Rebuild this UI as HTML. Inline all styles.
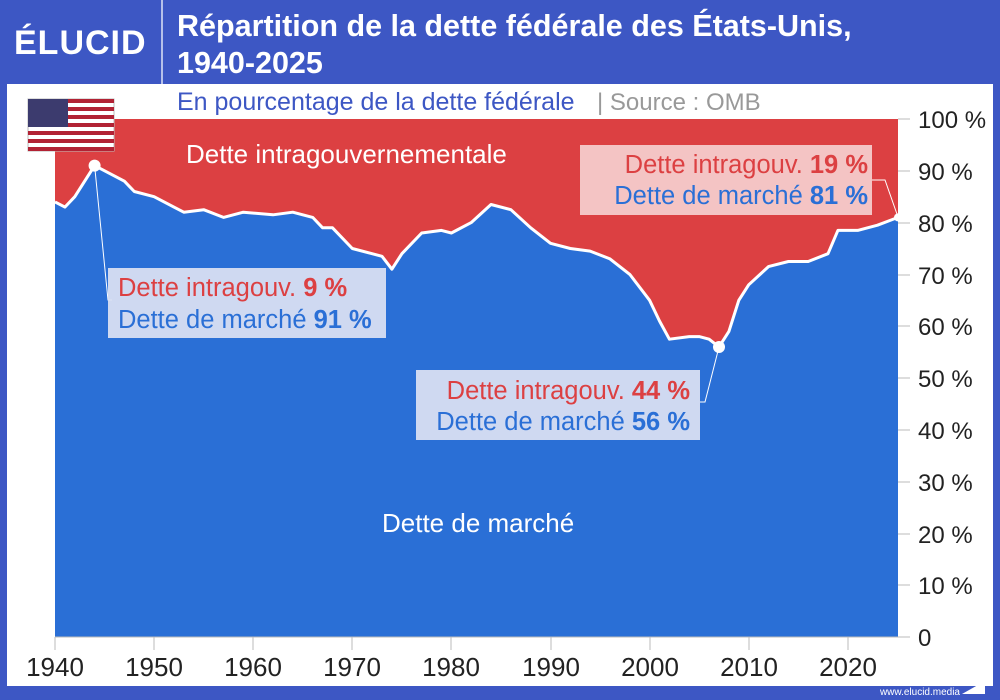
<!DOCTYPE html>
<html><head><meta charset="utf-8"><style>
html,body{margin:0;padding:0;}
body{width:1000px;height:700px;background:#3d57c4;position:relative;overflow:hidden;font-family:"Liberation Sans",sans-serif;}
</style></head><body>
<svg width="1000" height="700" viewBox="0 0 1000 700" style="position:absolute;left:0;top:0">
<rect x="0" y="0" width="1000" height="700" fill="#3d57c4"/>
<rect x="7" y="84" width="986" height="602" fill="#ffffff"/>
<line x1="162" y1="0" x2="162" y2="84" stroke="#dfe4f7" stroke-width="1.5"/>
<text x="14" y="54" font-size="34" font-weight="bold" fill="#fff" letter-spacing="1">ÉLUCID</text>
<text x="177" y="36" font-size="30.5" font-weight="bold" fill="#fff">Répartition de la dette fédérale des États-Unis,</text>
<text x="177" y="73" font-size="30.5" font-weight="bold" fill="#fff">1940-2025</text>
<text x="177" y="110" font-size="25" fill="#3d57c4">En pourcentage de la dette fédérale</text>
<text x="597" y="110" font-size="24" fill="#999">| Source : OMB</text>
<rect x="55" y="119" width="843" height="518" fill="#dc4042"/>
<path d="M55,201.9 L64.9,207.1 L74.8,196.7 L94.6,165.6 L104.6,170.8 L124.4,181.2 L134.3,191.5 L154.1,196.7 L173.9,207.1 L183.8,212.2 L203.7,209.7 L223.5,217.4 L243.3,212.2 L273,214.8 L292.8,212.2 L312.7,217.4 L322.6,227.8 L332.5,227.8 L352.3,248.5 L372.1,253.7 L382,256.3 L391.9,269.2 L401.9,253.7 L421.7,233 L441.5,230.4 L451.4,233 L471.2,222.6 L491,204.5 L510.9,209.7 L530.7,227.8 L550.5,243.3 L570.3,248.5 L590.1,251.1 L610,258.9 L629.8,274.4 L649.6,300.3 L659.5,321 L669.4,339.2 L689.2,336.6 L699.2,336.6 L709.1,339.2 L719,346.9 L728.9,331.4 L738.8,300.3 L748.7,284.8 L768.5,266.6 L788.4,261.5 L808.2,261.5 L828,253.7 L837.9,230.4 L857.7,230.4 L877.5,225.2 L898,217.4 L898,637 L55,637 Z" fill="#2a6fd6"/>
<path d="M55,201.9 L64.9,207.1 L74.8,196.7 L94.6,165.6 L104.6,170.8 L124.4,181.2 L134.3,191.5 L154.1,196.7 L173.9,207.1 L183.8,212.2 L203.7,209.7 L223.5,217.4 L243.3,212.2 L273,214.8 L292.8,212.2 L312.7,217.4 L322.6,227.8 L332.5,227.8 L352.3,248.5 L372.1,253.7 L382,256.3 L391.9,269.2 L401.9,253.7 L421.7,233 L441.5,230.4 L451.4,233 L471.2,222.6 L491,204.5 L510.9,209.7 L530.7,227.8 L550.5,243.3 L570.3,248.5 L590.1,251.1 L610,258.9 L629.8,274.4 L649.6,300.3 L659.5,321 L669.4,339.2 L689.2,336.6 L699.2,336.6 L709.1,339.2 L719,346.9 L728.9,331.4 L738.8,300.3 L748.7,284.8 L768.5,266.6 L788.4,261.5 L808.2,261.5 L828,253.7 L837.9,230.4 L857.7,230.4 L877.5,225.2 L898,217.4" fill="none" stroke="#fff" stroke-width="3" stroke-linejoin="round"/>
<g transform="translate(28,99)">
<rect width="86" height="52" fill="#fff" stroke="#bbb"/>
<g fill="#b22234">
<rect y="0" width="86" height="4"/><rect y="8" width="86" height="4"/><rect y="16" width="86" height="4"/><rect y="24" width="86" height="4"/><rect y="32" width="86" height="4"/><rect y="40" width="86" height="4"/><rect y="48" width="86" height="4"/>
</g>
<rect width="40" height="28" fill="#3c3b6e"/>
</g>
<g font-size="24" fill="#222">
<text x="918" y="128">100 %</text>
<text x="918" y="180">90 %</text>
<text x="918" y="232">80 %</text>
<text x="918" y="284">70 %</text>
<text x="918" y="335">60 %</text>
<text x="918" y="387">50 %</text>
<text x="918" y="439">40 %</text>
<text x="918" y="491">30 %</text>
<text x="918" y="543">20 %</text>
<text x="918" y="594">10 %</text>
<text x="918" y="646">0</text>
</g>
<g stroke="#bbb" stroke-width="1">
<line x1="898" y1="171" x2="910" y2="171"/><line x1="898" y1="223" x2="910" y2="223"/><line x1="898" y1="275" x2="910" y2="275"/><line x1="898" y1="326" x2="910" y2="326"/><line x1="898" y1="378" x2="910" y2="378"/><line x1="898" y1="430" x2="910" y2="430"/><line x1="898" y1="482" x2="910" y2="482"/><line x1="898" y1="534" x2="910" y2="534"/><line x1="898" y1="585" x2="910" y2="585"/><line x1="898" y1="119" x2="910" y2="119"/>
<line x1="55" y1="637" x2="910" y2="637"/>
<line x1="55" y1="637" x2="55" y2="650"/><line x1="154" y1="637" x2="154" y2="650"/><line x1="253" y1="637" x2="253" y2="650"/><line x1="352" y1="637" x2="352" y2="650"/><line x1="451" y1="637" x2="451" y2="650"/><line x1="551" y1="637" x2="551" y2="650"/><line x1="650" y1="637" x2="650" y2="650"/><line x1="749" y1="637" x2="749" y2="650"/><line x1="848" y1="637" x2="848" y2="650"/>
</g>
<g font-size="26" fill="#222" text-anchor="middle">
<text x="55" y="676">1940</text><text x="154" y="676">1950</text><text x="253" y="676">1960</text><text x="352" y="676">1970</text><text x="451" y="676">1980</text><text x="551" y="676">1990</text><text x="650" y="676">2000</text><text x="749" y="676">2010</text><text x="848" y="676">2020</text>
</g>
<text x="960" y="695" font-size="10" fill="#fff" text-anchor="end">www.elucid.media</text>
<polygon points="962,694 985,681 985,694" fill="#fff"/>
<text x="186" y="163" font-size="26" fill="#fff">Dette intragouvernementale</text>
<text x="382" y="532" font-size="26" fill="#fff">Dette de marché</text>
<g stroke="#fff" stroke-width="1" fill="none">
<polyline points="94.6,165.6 108,300 112,300"/>
<polyline points="719,347 705,402 700,402"/>
<polyline points="898,217 885,180 872,180"/>
</g>
<circle cx="94.6" cy="165.6" r="6" fill="#fff"/>
<circle cx="719" cy="347" r="6" fill="#fff"/>
<circle cx="898" cy="217.4" r="4" fill="#fff"/>
<rect x="108" y="268" width="278" height="70" fill="#dbe1f3" opacity="0.93"/>
<text x="118" y="296" font-size="25.5" fill="#dc4042">Dette intragouv. <tspan font-weight="bold">9 %</tspan></text>
<text x="118" y="328" font-size="25.5" fill="#2a6fd6">Dette de marché <tspan font-weight="bold">91 %</tspan></text>
<rect x="416" y="370" width="284" height="70" fill="#dbe1f3" opacity="0.93"/>
<text x="690" y="399" font-size="25.5" fill="#dc4042" text-anchor="end">Dette intragouv. <tspan font-weight="bold">44 %</tspan></text>
<text x="690" y="430" font-size="25.5" fill="#2a6fd6" text-anchor="end">Dette de marché <tspan font-weight="bold">56 %</tspan></text>
<rect x="580" y="145" width="292" height="70" fill="#f5cfcf" opacity="0.93"/>
<text x="868" y="173" font-size="25.5" fill="#dc4042" text-anchor="end">Dette intragouv. <tspan font-weight="bold">19 %</tspan></text>
<text x="868" y="204" font-size="25.5" fill="#2a6fd6" text-anchor="end">Dette de marché <tspan font-weight="bold">81 %</tspan></text>
</svg>
</body></html>
